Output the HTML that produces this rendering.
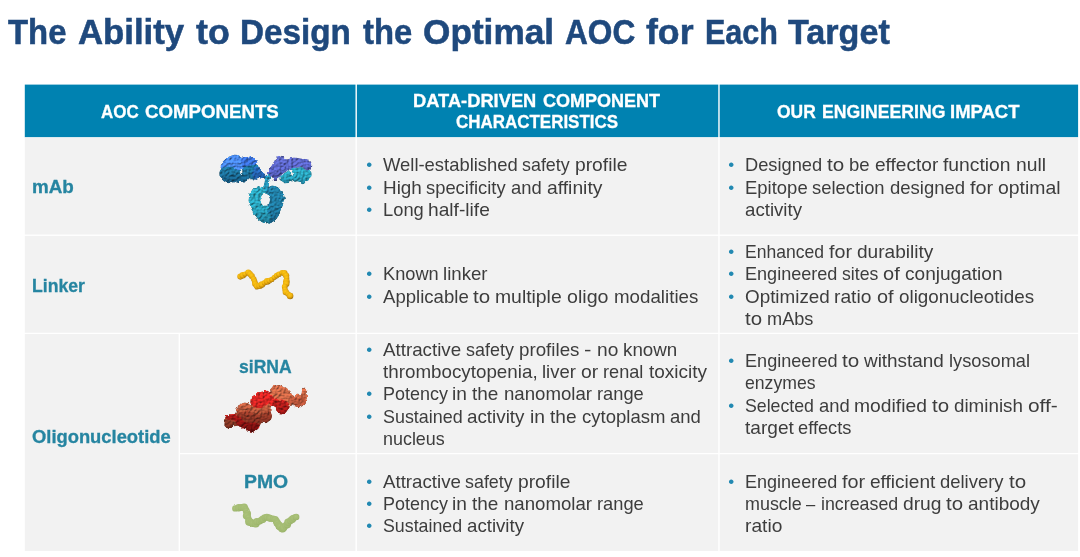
<!DOCTYPE html>
<html lang="en"><head><meta charset="utf-8"><title>The Ability to Design the Optimal AOC for Each Target</title>
<style>
html,body{margin:0;padding:0;background:#fff}
body{width:1080px;height:557px;overflow:hidden;position:relative;font-family:"Liberation Sans",sans-serif}
.slide{position:absolute;left:0;top:0;width:1080px;height:557px;overflow:hidden;background:#fff}
.t,.art{position:absolute}
h1{margin:0;padding:0;font-size:inherit;font-weight:inherit}
.t{white-space:nowrap;font-family:"Liberation Sans",sans-serif;transform-origin:0 0}
.b{font-size:18.2px;line-height:20px;color:#3d3d3d}
.hd{font-size:17.8px;line-height:20px;font-weight:bold;color:#fff;-webkit-text-stroke:0.3px #fff}
.lb{font-size:17.8px;line-height:20px;font-weight:bold;color:#2685a1;-webkit-text-stroke:0.3px #2685a1}
.ti{font-size:35px;line-height:40px;font-weight:bold;color:#1f497d;-webkit-text-stroke:0.55px #1f497d}
.bu{font-size:17.0px;line-height:20px;color:#2289b2}
.art{left:0;top:0;width:1080px;height:557px;pointer-events:none}
</style></head><body>
<div class="slide">
<svg class="art" viewBox="0 0 1080 557" width="1080" height="557">
<rect x="24.8" y="84.6" width="1053.30" height="52.65" fill="#0082b1"/>
<rect x="24.8" y="137.45" width="1053.30" height="413.55" fill="#f2f2f2"/>
<rect x="355.50" y="83.60" width="1.4" height="468.40" fill="#fff"/>
<rect x="718.27" y="83.60" width="1.4" height="468.40" fill="#fff"/>
<rect x="178.60" y="333.40" width="1.4" height="218.60" fill="#fff"/>
<rect x="23.80" y="234.57" width="1055.30" height="1.35" fill="#fff"/>
<rect x="23.80" y="332.72" width="1055.30" height="1.35" fill="#fff"/>
<rect x="179.30" y="452.93" width="899.80" height="1.35" fill="#fff"/>
</svg>
<h1><span class="t ti" style="left:8.30px;top:12px;transform:scaleX(0.9391)">The</span>
<span class="t ti" style="left:78.00px;top:12px;transform:scaleX(0.9927)">Ability</span>
<span class="t ti" style="left:195.80px;top:12px;transform:scaleX(1.0228)">to</span>
<span class="t ti" style="left:239.70px;top:12px;transform:scaleX(0.9496)">Design</span>
<span class="t ti" style="left:362.50px;top:12px;transform:scaleX(0.9378)">the</span>
<span class="t ti" style="left:423.19px;top:12px;transform:scaleX(1.0057)">Optimal</span>
<span class="t ti" style="left:565.00px;top:12px;transform:scaleX(0.9032)">AOC</span>
<span class="t ti" style="left:646.30px;top:12px;transform:scaleX(1.0184)">for</span>
<span class="t ti" style="left:704.96px;top:12px;transform:scaleX(0.8720)">Each</span>
<span class="t ti" style="left:788.10px;top:12px;transform:scaleX(0.9751)">Target</span></h1>
<span class="t hd" style="left:101.10px;top:102px;transform:scaleX(0.9528)">AOC</span>
<span class="t hd" style="left:145.30px;top:102px;transform:scaleX(1.0496)">COMPONENTS</span>
<span class="t hd" style="left:413.37px;top:91px;transform:scaleX(1.0287)">DATA-DRIVEN</span>
<span class="t hd" style="left:542.80px;top:91px;transform:scaleX(1.0128)">COMPONENT</span>
<span class="t hd" style="left:456.10px;top:112px;transform:scaleX(0.9538)">CHARACTERISTICS</span>
<span class="t hd" style="left:776.90px;top:102px;transform:scaleX(0.9805)">OUR</span>
<span class="t hd" style="left:821.81px;top:102px;transform:scaleX(0.9914)">ENGINEERING</span>
<span class="t hd" style="left:950.36px;top:102px;transform:scaleX(1.0398)">IMPACT</span>
<span class="t lb" style="left:31.94px;top:177px;transform:scaleX(1.0582)">mAb</span>
<span class="t lb" style="left:31.81px;top:276px;transform:scaleX(0.9916)">Linker</span>
<span class="t lb" style="left:32.40px;top:427px;transform:scaleX(1.0323)">Oligonucleotide</span>
<span class="t lb" style="left:239.30px;top:357px;transform:scaleX(0.9867)">siRNA</span>
<span class="t lb" style="left:243.81px;top:472px;transform:scaleX(1.0889)">PMO</span>
<span class="t bu" style="left:366.15px;top:155px">•</span>
<span class="t bu" style="left:366.15px;top:178px">•</span>
<span class="t bu" style="left:366.15px;top:200px">•</span>
<span class="t bu" style="left:366.15px;top:264px">•</span>
<span class="t bu" style="left:366.15px;top:287px">•</span>
<span class="t bu" style="left:366.15px;top:340px">•</span>
<span class="t bu" style="left:366.15px;top:384px">•</span>
<span class="t bu" style="left:366.15px;top:407px">•</span>
<span class="t bu" style="left:366.15px;top:472px">•</span>
<span class="t bu" style="left:366.15px;top:494px">•</span>
<span class="t bu" style="left:366.15px;top:516px">•</span>
<span class="t bu" style="left:728.15px;top:155px">•</span>
<span class="t bu" style="left:728.15px;top:178px">•</span>
<span class="t bu" style="left:728.15px;top:242px">•</span>
<span class="t bu" style="left:728.15px;top:264px">•</span>
<span class="t bu" style="left:728.15px;top:287px">•</span>
<span class="t bu" style="left:728.15px;top:351px">•</span>
<span class="t bu" style="left:728.15px;top:396px">•</span>
<span class="t bu" style="left:728.15px;top:472px">•</span>
<div class="ln">
<span class="t b" style="left:382.50px;top:155px;transform:scaleX(1.0128)">Well-established</span>
<span class="t b" style="left:522.36px;top:155px;transform:scaleX(0.9834)">safety</span>
<span class="t b" style="left:575.13px;top:155px;transform:scaleX(1.0583)">profile</span>
</div>
<div class="ln">
<span class="t b" style="left:382.50px;top:178px;transform:scaleX(1.0383)">High</span>
<span class="t b" style="left:426.39px;top:178px;transform:scaleX(1.0101)">specificity</span>
<span class="t b" style="left:511.07px;top:178px;transform:scaleX(1.0103)">and</span>
<span class="t b" style="left:546.78px;top:178px;transform:scaleX(1.0603)">affinity</span>
</div>
<div class="ln">
<span class="t b" style="left:382.50px;top:200px;transform:scaleX(1.0073)">Long</span>
<span class="t b" style="left:428.31px;top:200px;transform:scaleX(1.0539)">half-life</span>
</div>
<div class="ln">
<span class="t b" style="left:382.50px;top:264px;transform:scaleX(1.0007)">Known</span>
<span class="t b" style="left:443.20px;top:264px;transform:scaleX(1.0258)">linker</span>
</div>
<div class="ln">
<span class="t b" style="left:382.50px;top:287px;transform:scaleX(1.0213)">Applicable</span>
<span class="t b" style="left:473.28px;top:287px;transform:scaleX(1.1290)">to</span>
<span class="t b" style="left:495.48px;top:287px;transform:scaleX(1.0640)">multiple</span>
<span class="t b" style="left:567.23px;top:287px;transform:scaleX(1.0814)">oligo</span>
<span class="t b" style="left:613.86px;top:287px;transform:scaleX(1.0300)">modalities</span>
</div>
<div class="ln">
<span class="t b" style="left:382.50px;top:340px;transform:scaleX(1.0314)">Attractive</span>
<span class="t b" style="left:465.75px;top:340px;transform:scaleX(0.9867)">safety</span>
<span class="t b" style="left:518.70px;top:340px;transform:scaleX(1.0309)">profiles</span>
<span class="t b" style="left:584.21px;top:340px;transform:scaleX(1.2222)">-</span>
<span class="t b" style="left:596.68px;top:340px;transform:scaleX(1.0531)">no</span>
<span class="t b" style="left:623.06px;top:340px;transform:scaleX(1.0327)">known</span>
</div>
<div class="ln">
<span class="t b" style="left:382.50px;top:362px;transform:scaleX(1.0333)">thrombocytopenia,</span>
<span class="t b" style="left:542.16px;top:362px;transform:scaleX(1.0144)">liver</span>
<span class="t b" style="left:581.04px;top:362px;transform:scaleX(1.0646)">or</span>
<span class="t b" style="left:603.31px;top:362px;transform:scaleX(0.9973)">renal</span>
<span class="t b" style="left:648.70px;top:362px;transform:scaleX(1.0449)">toxicity</span>
</div>
<div class="ln">
<span class="t b" style="left:382.50px;top:384px;transform:scaleX(0.9873)">Potency</span>
<span class="t b" style="left:452.44px;top:384px;transform:scaleX(1.0526)">in</span>
<span class="t b" style="left:472.40px;top:384px;transform:scaleX(1.0418)">the</span>
<span class="t b" style="left:503.79px;top:384px;transform:scaleX(1.0243)">nanomolar</span>
<span class="t b" style="left:596.88px;top:384px;transform:scaleX(1.0047)">range</span>
</div>
<div class="ln">
<span class="t b" style="left:382.50px;top:407px;transform:scaleX(0.9848)">Sustained</span>
<span class="t b" style="left:467.25px;top:407px;transform:scaleX(1.0337)">activity</span>
<span class="t b" style="left:529.80px;top:407px;transform:scaleX(1.0600)">in</span>
<span class="t b" style="left:549.90px;top:407px;transform:scaleX(1.0491)">the</span>
<span class="t b" style="left:581.52px;top:407px;transform:scaleX(1.0191)">cytoplasm</span>
<span class="t b" style="left:670.05px;top:407px;transform:scaleX(1.0179)">and</span>
</div>
<div class="ln">
<span class="t b" style="left:382.50px;top:429px;transform:scaleX(0.9847)">nucleus</span>
</div>
<div class="ln">
<span class="t b" style="left:382.50px;top:472px;transform:scaleX(1.0280)">Attractive</span>
<span class="t b" style="left:465.48px;top:472px;transform:scaleX(0.9834)">safety</span>
<span class="t b" style="left:518.25px;top:472px;transform:scaleX(1.0583)">profile</span>
</div>
<div class="ln">
<span class="t b" style="left:382.50px;top:494px;transform:scaleX(0.9873)">Potency</span>
<span class="t b" style="left:452.44px;top:494px;transform:scaleX(1.0526)">in</span>
<span class="t b" style="left:472.40px;top:494px;transform:scaleX(1.0418)">the</span>
<span class="t b" style="left:503.79px;top:494px;transform:scaleX(1.0243)">nanomolar</span>
<span class="t b" style="left:596.88px;top:494px;transform:scaleX(1.0047)">range</span>
</div>
<div class="ln">
<span class="t b" style="left:382.50px;top:516px;transform:scaleX(0.9773)">Sustained</span>
<span class="t b" style="left:466.62px;top:516px;transform:scaleX(1.0259)">activity</span>
</div>
<div class="ln">
<span class="t b" style="left:744.50px;top:155px;transform:scaleX(1.0041)">Designed</span>
<span class="t b" style="left:826.74px;top:155px;transform:scaleX(1.1325)">to</span>
<span class="t b" style="left:849.01px;top:155px;transform:scaleX(1.0199)">be</span>
<span class="t b" style="left:874.73px;top:155px;transform:scaleX(1.0486)">effector</span>
<span class="t b" style="left:943.08px;top:155px;transform:scaleX(1.0604)">function</span>
<span class="t b" style="left:1015.72px;top:155px;transform:scaleX(1.0591)">null</span>
</div>
<div class="ln">
<span class="t b" style="left:744.50px;top:178px;transform:scaleX(1.0158)">Epitope</span>
<span class="t b" style="left:812.25px;top:178px;transform:scaleX(1.0112)">selection</span>
<span class="t b" style="left:889.93px;top:178px;transform:scaleX(1.0172)">designed</span>
<span class="t b" style="left:970.11px;top:178px;transform:scaleX(1.0911)">for</span>
<span class="t b" style="left:998.36px;top:178px;transform:scaleX(1.0669)">optimal</span>
</div>
<div class="ln">
<span class="t b" style="left:744.50px;top:200px;transform:scaleX(1.0259)">activity</span>
</div>
<div class="ln">
<span class="t b" style="left:744.50px;top:242px;transform:scaleX(0.9645)">Enhanced</span>
<span class="t b" style="left:828.56px;top:242px;transform:scaleX(1.0832)">for</span>
<span class="t b" style="left:856.61px;top:242px;transform:scaleX(1.0497)">durability</span>
</div>
<div class="ln">
<span class="t b" style="left:744.50px;top:264px;transform:scaleX(0.9928)">Engineered</span>
<span class="t b" style="left:841.96px;top:264px;transform:scaleX(0.9700)">sites</span>
<span class="t b" style="left:883.32px;top:264px;transform:scaleX(1.1015)">of</span>
<span class="t b" style="left:905.12px;top:264px;transform:scaleX(1.0485)">conjugation</span>
</div>
<div class="ln">
<span class="t b" style="left:744.50px;top:287px;transform:scaleX(1.0361)">Optimized</span>
<span class="t b" style="left:834.39px;top:287px;transform:scaleX(1.0573)">ratio</span>
<span class="t b" style="left:876.87px;top:287px;transform:scaleX(1.0959)">of</span>
<span class="t b" style="left:898.56px;top:287px;transform:scaleX(1.0353)">oligonucleotides</span>
</div>
<div class="ln">
<span class="t b" style="left:744.50px;top:309px;transform:scaleX(1.1249)">to</span>
<span class="t b" style="left:766.62px;top:309px;transform:scaleX(0.9987)">mAbs</span>
</div>
<div class="ln">
<span class="t b" style="left:744.50px;top:351px;transform:scaleX(0.9946)">Engineered</span>
<span class="t b" style="left:842.13px;top:351px;transform:scaleX(1.1351)">to</span>
<span class="t b" style="left:864.44px;top:351px;transform:scaleX(1.0396)">withstand</span>
<span class="t b" style="left:949.43px;top:351px;transform:scaleX(1.0020)">lysosomal</span>
</div>
<div class="ln">
<span class="t b" style="left:744.50px;top:373px;transform:scaleX(0.9697)">enzymes</span>
</div>
<div class="ln">
<span class="t b" style="left:744.50px;top:396px;transform:scaleX(0.9743)">Selected</span>
<span class="t b" style="left:818.52px;top:396px;transform:scaleX(1.0122)">and</span>
<span class="t b" style="left:854.30px;top:396px;transform:scaleX(1.0600)">modified</span>
<span class="t b" style="left:932.23px;top:396px;transform:scaleX(1.1271)">to</span>
<span class="t b" style="left:954.39px;top:396px;transform:scaleX(1.0330)">diminish</span>
<span class="t b" style="left:1028.37px;top:396px;transform:scaleX(1.1482)">off-</span>
</div>
<div class="ln">
<span class="t b" style="left:744.50px;top:418px;transform:scaleX(1.0491)">target</span>
<span class="t b" style="left:798.35px;top:418px;transform:scaleX(1.0036)">effects</span>
</div>
<div class="ln">
<span class="t b" style="left:744.50px;top:472px;transform:scaleX(0.9913)">Engineered</span>
<span class="t b" style="left:841.81px;top:472px;transform:scaleX(1.0895)">for</span>
<span class="t b" style="left:870.02px;top:472px;transform:scaleX(1.0482)">efficient</span>
<span class="t b" style="left:940.46px;top:472px;transform:scaleX(1.0137)">delivery</span>
<span class="t b" style="left:1009.07px;top:472px;transform:scaleX(1.1314)">to</span>
</div>
<div class="ln">
<span class="t b" style="left:744.50px;top:494px;transform:scaleX(0.9850)">muscle</span>
<span class="t b" style="left:806.30px;top:494px;transform:scaleX(0.9120)">–</span>
<span class="t b" style="left:820.58px;top:494px;transform:scaleX(0.9786)">increased</span>
<span class="t b" style="left:902.80px;top:494px;transform:scaleX(1.0582)">drug</span>
<span class="t b" style="left:946.38px;top:494px;transform:scaleX(1.1249)">to</span>
<span class="t b" style="left:968.49px;top:494px;transform:scaleX(1.0452)">antibody</span>
</div>
<div class="ln">
<span class="t b" style="left:744.50px;top:516px;transform:scaleX(1.0549)">ratio</span>
</div>
<svg class="art" viewBox="0 0 1080 557" width="1080" height="557">
<defs>
<filter id="rough" x="-10%" y="-10%" width="120%" height="120%" color-interpolation-filters="sRGB">
<feTurbulence type="fractalNoise" baseFrequency="0.4" numOctaves="2" seed="4" result="n"/>
<feDisplacementMap in="SourceGraphic" in2="n" scale="3.0" xChannelSelector="R" yChannelSelector="G" result="d"/>
<feTurbulence type="fractalNoise" baseFrequency="0.42" numOctaves="2" seed="11" result="n2"/>
<feColorMatrix in="n2" type="matrix" values="0 0 0 0 0  0 0 0 0 0  0 0 0 0 0  1 0 0 0 0" result="bump"/>
<feDiffuseLighting in="bump" surfaceScale="1.15" diffuseConstant="1.18" lighting-color="#fff" result="light"><feDistantLight azimuth="235" elevation="48"/></feDiffuseLighting>
<feComposite in="d" in2="light" operator="arithmetic" k1="1.18" k2="0" k3="0" k4="0" result="lit"/>
<feComposite in="lit" in2="d" operator="in"/>
</filter>
<filter id="rough2" x="-10%" y="-10%" width="120%" height="120%" color-interpolation-filters="sRGB">
<feTurbulence type="fractalNoise" baseFrequency="0.5" numOctaves="2" seed="7" result="n"/>
<feDisplacementMap in="SourceGraphic" in2="n" scale="2.0" xChannelSelector="R" yChannelSelector="G" result="d"/>
</filter>
<linearGradient id="shR" x1="0" y1="0" x2="0" y2="1"><stop offset="0" stop-color="#400" stop-opacity="0"/><stop offset="0.4" stop-color="#400" stop-opacity="0.08"/><stop offset="1" stop-color="#2a0000" stop-opacity="0.7"/></linearGradient>
<linearGradient id="shB" x1="0" y1="0" x2="0" y2="1"><stop offset="0" stop-color="#013" stop-opacity="0"/><stop offset="0.6" stop-color="#013" stop-opacity="0.05"/><stop offset="1" stop-color="#013" stop-opacity="0.35"/></linearGradient>
<radialGradient id="gY" cx="0.42" cy="0.36" r="0.66"><stop offset="0" stop-color="#fcc818"/><stop offset="0.5" stop-color="#f1b410"/><stop offset="0.85" stop-color="#c98f0b"/><stop offset="1" stop-color="#9a6c08"/></radialGradient>
<radialGradient id="gG" cx="0.45" cy="0.4" r="0.7"><stop offset="0" stop-color="#adc47c"/><stop offset="0.7" stop-color="#a2ba71"/><stop offset="1" stop-color="#90ab60"/></radialGradient>
<linearGradient id="shP" x1="0" y1="0" x2="0.3" y2="1"><stop offset="0" stop-color="#8f9cf0" stop-opacity="0.25"/><stop offset="0.5" stop-color="#224" stop-opacity="0"/><stop offset="1" stop-color="#113" stop-opacity="0.4"/></linearGradient>
</defs>
<g filter="url(#rough)"><g transform="translate(0,190) scale(1,0.962) translate(0,-190)">
<path d="M219.3,173.0 C219.3,169.5 220.5,170.3 221.3,167.0 C222.1,163.6 220.3,165.9 221.7,162.9 C223.0,160.0 222.5,160.8 225.3,158.1 C228.1,155.4 226.1,156.3 230.2,154.8 C234.2,153.4 233.7,153.1 237.4,153.6 C241.2,154.2 238.5,155.8 241.5,156.5 C244.4,157.1 242.8,155.8 246.3,155.7 C249.8,155.5 248.7,155.0 252.0,156.1 C255.2,157.1 254.5,156.6 256.0,158.9 C257.5,161.2 255.3,160.5 256.4,162.9 C257.5,165.3 257.2,163.5 259.2,166.2 C261.3,168.8 260.3,168.0 262.5,171.0 C264.6,174.0 264.6,172.8 265.7,175.0 C266.8,177.3 266.8,177.1 265.7,177.9 C264.6,178.7 264.6,177.9 262.5,177.5 C260.3,177.1 260.8,176.3 259.2,176.7 C257.6,177.1 259.8,177.9 257.6,178.7 C255.5,179.5 255.7,179.2 252.8,179.1 C249.8,178.9 251.4,177.2 248.7,178.3 C246.0,179.3 246.8,181.0 244.7,182.3 C242.5,183.7 243.6,182.8 242.3,182.3 C240.9,181.8 242.0,180.7 240.7,180.7 C239.3,180.7 240.7,181.8 238.2,182.3 C235.8,182.8 236.6,182.0 233.4,182.3 C230.2,182.6 231.5,183.4 228.5,183.1 C225.6,182.8 226.9,183.4 224.5,181.5 C222.1,179.6 223.0,180.3 221.3,177.5 C219.5,174.6 219.3,176.5 219.3,173.0Z M240.5,168.2 C241.0,167.4 241.3,167.4 241.9,168.6 C242.4,169.8 242.4,170.3 242.1,171.8 C241.8,173.3 241.7,173.3 241.1,173.0 C240.4,172.8 240.4,172.6 240.3,171.0 C240.1,169.4 240.0,169.0 240.5,168.2Z" fill="#1e769f" fill-rule="evenodd"/>
<path d="M252.8,169.4 C254.1,165.6 254.4,165.6 257.6,166.2 C260.8,166.7 259.8,168.0 262.5,171.0 C265.2,174.0 265.7,172.9 265.7,175.0 C265.7,177.2 264.6,176.9 262.5,177.5 C260.3,178.0 260.8,176.3 259.2,176.7 C257.6,177.1 259.5,178.4 257.6,178.7 C255.7,178.9 255.2,180.6 253.6,177.5 C252.0,174.4 251.4,173.2 252.8,169.4Z" fill="#2668b8"/>
<path d="M221.1,167.4 C219.9,166.3 220.3,166.0 221.7,162.9 C223.1,159.8 222.5,160.8 225.3,158.1 C228.1,155.4 226.1,156.3 230.2,154.8 C234.2,153.4 233.7,153.1 237.4,153.6 C241.2,154.2 238.5,155.8 241.5,156.5 C244.4,157.1 242.8,155.8 246.3,155.7 C249.8,155.5 248.7,155.0 252.0,156.1 C255.2,157.1 254.5,156.6 256.0,158.9 C257.5,161.2 257.8,161.3 256.4,162.9 C255.1,164.6 254.8,163.3 252.0,163.9 C249.1,164.5 250.6,163.9 247.9,164.7 C245.2,165.5 246.2,164.9 243.9,166.2 C241.6,167.4 243.2,167.3 241.1,168.4 C238.9,169.5 239.4,169.7 237.4,169.4 C235.4,169.0 237.4,168.6 235.0,167.4 C232.6,166.2 233.4,166.2 230.2,165.8 C226.9,165.3 228.3,165.5 225.3,166.0 C222.3,166.5 222.3,168.4 221.1,167.4Z" fill="#4a88ea"/>
<path d="M241.5,156.9 C243.2,155.5 242.8,155.9 246.3,155.7 C249.8,155.4 248.7,155.0 252.0,156.1 C255.2,157.1 254.5,156.6 256.0,158.9 C257.5,161.2 257.8,161.3 256.4,162.9 C255.1,164.6 254.8,163.3 252.0,163.9 C249.1,164.5 250.6,163.9 247.9,164.7 C245.2,165.5 245.9,166.5 243.9,166.2 C241.9,165.8 242.8,165.9 241.9,163.7 C240.9,161.6 241.2,162.0 241.1,159.7 C240.9,157.4 239.7,158.2 241.5,156.9Z" fill="#3b6fd6"/>
<path d="M219.3,173.0 C219.3,169.5 220.5,170.3 221.3,167.0 C222.1,163.6 220.3,165.9 221.7,162.9 C223.0,160.0 222.5,160.8 225.3,158.1 C228.1,155.4 226.1,156.3 230.2,154.8 C234.2,153.4 233.7,153.1 237.4,153.6 C241.2,154.2 238.5,155.8 241.5,156.5 C244.4,157.1 242.8,155.8 246.3,155.7 C249.8,155.5 248.7,155.0 252.0,156.1 C255.2,157.1 254.5,156.6 256.0,158.9 C257.5,161.2 255.3,160.5 256.4,162.9 C257.5,165.3 257.2,163.5 259.2,166.2 C261.3,168.8 260.3,168.0 262.5,171.0 C264.6,174.0 264.6,172.8 265.7,175.0 C266.8,177.3 266.8,177.1 265.7,177.9 C264.6,178.7 264.6,177.9 262.5,177.5 C260.3,177.1 260.8,176.3 259.2,176.7 C257.6,177.1 259.8,177.9 257.6,178.7 C255.5,179.5 255.7,179.2 252.8,179.1 C249.8,178.9 251.4,177.2 248.7,178.3 C246.0,179.3 246.8,181.0 244.7,182.3 C242.5,183.7 243.6,182.8 242.3,182.3 C240.9,181.8 242.0,180.7 240.7,180.7 C239.3,180.7 240.7,181.8 238.2,182.3 C235.8,182.8 236.6,182.0 233.4,182.3 C230.2,182.6 231.5,183.4 228.5,183.1 C225.6,182.8 226.9,183.4 224.5,181.5 C222.1,179.6 223.0,180.3 221.3,177.5 C219.5,174.6 219.3,176.5 219.3,173.0Z M240.5,168.2 C241.0,167.4 241.3,167.4 241.9,168.6 C242.4,169.8 242.4,170.3 242.1,171.8 C241.8,173.3 241.7,173.3 241.1,173.0 C240.4,172.8 240.4,172.6 240.3,171.0 C240.1,169.4 240.0,169.0 240.5,168.2Z" fill="url(#shB)" fill-rule="evenodd"/>
<path d="M279.4,177.5 C279.7,174.8 280.7,175.8 283.4,173.4 C286.1,171.0 284.5,172.2 287.5,170.2 C290.4,168.2 288.8,168.6 292.3,167.4 C295.8,166.2 294.7,167.0 298.0,166.6 C301.2,166.2 299.6,165.5 302.0,166.2 C304.4,166.8 302.8,167.5 305.2,168.6 C307.7,169.7 307.1,167.6 309.3,169.4 C311.4,171.1 311.7,170.9 311.7,173.8 C311.7,176.8 311.2,175.8 309.3,178.3 C307.4,180.7 308.2,179.2 306.0,181.1 C303.9,183.0 305.2,183.8 302.8,183.9 C300.4,184.1 301.7,182.3 298.8,181.5 C295.8,180.7 296.6,181.8 293.9,181.5 C291.2,181.2 293.1,180.2 290.7,180.7 C288.3,181.2 289.3,182.8 286.7,183.1 C284.0,183.4 285.0,183.4 282.6,181.5 C280.2,179.6 279.1,180.2 279.4,177.5Z M289.5,169.0 C289.8,168.2 290.2,168.4 291.1,169.4 C292.0,170.3 291.7,170.1 292.3,171.8 C292.9,173.6 293.2,173.8 293.0,174.6 C292.7,175.4 292.6,175.2 291.7,174.2 C290.8,173.3 291.0,173.6 290.3,171.8 C289.6,170.1 289.2,169.8 289.5,169.0Z" fill="#2ba6be" fill-rule="evenodd"/>
<path d="M279.4,177.5 C279.7,174.8 280.7,175.8 283.4,173.4 C286.1,171.0 284.5,172.2 287.5,170.2 C290.4,168.2 288.8,168.6 292.3,167.4 C295.8,166.2 294.7,167.0 298.0,166.6 C301.2,166.2 299.6,165.5 302.0,166.2 C304.4,166.8 302.8,167.5 305.2,168.6 C307.7,169.7 307.1,167.6 309.3,169.4 C311.4,171.1 311.7,170.9 311.7,173.8 C311.7,176.8 311.2,175.8 309.3,178.3 C307.4,180.7 308.2,179.2 306.0,181.1 C303.9,183.0 305.2,183.8 302.8,183.9 C300.4,184.1 301.7,182.3 298.8,181.5 C295.8,180.7 296.6,181.8 293.9,181.5 C291.2,181.2 293.1,180.2 290.7,180.7 C288.3,181.2 289.3,182.8 286.7,183.1 C284.0,183.4 285.0,183.4 282.6,181.5 C280.2,179.6 279.1,180.2 279.4,177.5Z M289.5,169.0 C289.8,168.2 290.2,168.4 291.1,169.4 C292.0,170.3 291.7,170.1 292.3,171.8 C292.9,173.6 293.2,173.8 293.0,174.6 C292.7,175.4 292.6,175.2 291.7,174.2 C290.8,173.3 291.0,173.6 290.3,171.8 C289.6,170.1 289.2,169.8 289.5,169.0Z" fill="url(#shB)" fill-rule="evenodd"/>
<path d="M268.1,172.6 C268.1,170.5 267.5,171.5 268.9,168.6 C270.2,165.6 270.0,167.2 272.1,163.7 C274.3,160.2 273.1,161.2 275.3,158.1 C277.6,155.0 276.3,155.3 279.0,154.4 C281.7,153.6 280.9,154.4 283.4,155.7 C286.0,156.9 283.7,157.8 286.7,158.1 C289.6,158.3 288.3,156.9 292.3,156.5 C296.3,156.1 294.5,156.5 298.8,156.9 C303.1,157.3 301.5,156.7 305.2,157.7 C309.0,158.6 308.1,157.4 310.1,159.7 C312.1,162.0 311.6,161.4 311.3,164.5 C311.0,167.6 311.3,167.6 309.3,169.0 C307.3,170.3 307.7,169.5 305.2,168.6 C302.8,167.6 304.4,166.8 302.0,166.2 C299.6,165.5 300.9,166.2 298.0,166.6 C295.0,167.0 295.9,166.6 293.1,167.4 C290.3,168.1 291.9,167.5 289.5,168.7 C287.1,170.0 288.4,169.2 285.8,171.0 C283.3,172.8 284.2,172.1 281.8,174.2 C279.4,176.4 280.7,175.3 278.6,177.5 C276.4,179.6 277.5,181.0 275.3,180.7 C273.2,180.4 274.3,178.5 272.1,176.7 C270.0,174.8 270.2,176.4 268.9,175.0 C267.5,173.7 268.1,174.8 268.1,172.6Z" fill="#5c66c9"/>
<path d="M268.1,172.6 C268.1,170.5 267.5,171.5 268.9,168.6 C270.2,165.6 270.0,167.2 272.1,163.7 C274.3,160.2 273.1,161.2 275.3,158.1 C277.6,155.0 276.3,155.3 279.0,154.4 C281.7,153.6 280.9,154.4 283.4,155.7 C286.0,156.9 283.7,157.8 286.7,158.1 C289.6,158.3 288.3,156.9 292.3,156.5 C296.3,156.1 294.5,156.5 298.8,156.9 C303.1,157.3 301.5,156.7 305.2,157.7 C309.0,158.6 308.1,157.4 310.1,159.7 C312.1,162.0 311.6,161.4 311.3,164.5 C311.0,167.6 311.3,167.6 309.3,169.0 C307.3,170.3 307.7,169.5 305.2,168.6 C302.8,167.6 304.4,166.8 302.0,166.2 C299.6,165.5 300.9,166.2 298.0,166.6 C295.0,167.0 295.9,166.6 293.1,167.4 C290.3,168.1 291.9,167.5 289.5,168.7 C287.1,170.0 288.4,169.2 285.8,171.0 C283.3,172.8 284.2,172.1 281.8,174.2 C279.4,176.4 280.7,175.3 278.6,177.5 C276.4,179.6 277.5,181.0 275.3,180.7 C273.2,180.4 274.3,178.5 272.1,176.7 C270.0,174.8 270.2,176.4 268.9,175.0 C267.5,173.7 268.1,174.8 268.1,172.6Z" fill="url(#shP)"/>
<path d="M248.8,197.7 C249.3,193.2 248.6,194.8 251.1,191.3 C253.6,187.8 252.8,188.7 256.3,187.2 C259.8,185.6 258.7,186.0 261.6,186.6 C264.5,187.2 262.6,188.9 265.1,188.9 C267.6,188.9 265.9,187.6 269.2,186.6 C272.5,185.6 271.3,185.0 275.0,186.0 C278.7,187.0 277.2,186.4 280.3,189.5 C283.3,192.6 283.1,190.7 284.1,195.3 C285.2,200.0 284.7,198.1 283.4,203.5 C282.1,209.0 282.3,206.6 280.3,211.7 C278.2,216.7 280.1,214.8 277.4,218.7 C274.6,222.6 275.6,221.3 272.1,223.4 C268.6,225.4 270.5,225.0 266.8,224.8 C263.2,224.6 264.5,225.0 261.0,222.8 C257.5,220.6 259.3,221.8 256.3,218.1 C253.4,214.4 254.6,216.2 252.3,211.7 C249.9,207.2 250.5,209.4 249.3,204.7 C248.2,200.0 248.2,202.2 248.8,197.7Z M261.0,198.6 C261.9,195.2 262.0,195.0 264.5,194.2 C267.0,193.3 266.8,193.4 268.5,196.0 C270.2,198.7 270.3,198.9 269.6,202.1 C269.0,205.4 269.2,205.1 266.6,205.9 C264.0,206.6 263.8,206.9 261.9,204.5 C260.1,202.0 260.2,202.0 261.0,198.6Z" fill="#2ba6be" fill-rule="evenodd"/>
<path d="M266.6,190.1 C267.7,188.0 266.4,188.0 269.2,186.6 C272.0,185.2 271.3,185.0 275.0,186.0 C278.7,187.0 277.2,186.4 280.3,189.5 C283.3,192.6 283.1,190.7 284.1,195.3 C285.2,200.0 284.7,198.1 283.4,203.5 C282.1,209.0 282.3,206.6 280.3,211.7 C278.2,216.7 280.1,214.8 277.4,218.7 C274.6,222.6 274.8,221.8 272.1,223.4 C269.4,224.9 269.7,225.1 269.2,223.4 C268.7,221.6 271.0,221.6 270.6,218.1 C270.2,214.6 268.5,216.2 268.0,212.9 C267.5,209.6 269.6,210.5 269.2,208.2 C268.7,205.9 266.5,207.9 266.6,205.9 C266.8,203.8 269.0,205.4 269.6,202.1 C270.3,198.9 269.7,199.1 268.5,196.0 C267.2,193.0 266.5,195.0 265.9,193.0 C265.3,191.0 265.5,192.2 266.6,190.1Z" fill="#1e769f" opacity="0.85"/>
<path d="M248.8,197.7 C249.3,193.2 248.6,194.8 251.1,191.3 C253.6,187.8 252.8,188.7 256.3,187.2 C259.8,185.6 258.7,186.0 261.6,186.6 C264.5,187.2 262.6,188.9 265.1,188.9 C267.6,188.9 265.9,187.6 269.2,186.6 C272.5,185.6 271.3,185.0 275.0,186.0 C278.7,187.0 277.2,186.4 280.3,189.5 C283.3,192.6 283.1,190.7 284.1,195.3 C285.2,200.0 284.7,198.1 283.4,203.5 C282.1,209.0 282.3,206.6 280.3,211.7 C278.2,216.7 280.1,214.8 277.4,218.7 C274.6,222.6 275.6,221.3 272.1,223.4 C268.6,225.4 270.5,225.0 266.8,224.8 C263.2,224.6 264.5,225.0 261.0,222.8 C257.5,220.6 259.3,221.8 256.3,218.1 C253.4,214.4 254.6,216.2 252.3,211.7 C249.9,207.2 250.5,209.4 249.3,204.7 C248.2,200.0 248.2,202.2 248.8,197.7Z M261.0,198.6 C261.9,195.2 262.0,195.0 264.5,194.2 C267.0,193.3 266.8,193.4 268.5,196.0 C270.2,198.7 270.3,198.9 269.6,202.1 C269.0,205.4 269.2,205.1 266.6,205.9 C264.0,206.6 263.8,206.9 261.9,204.5 C260.1,202.0 260.2,202.0 261.0,198.6Z" fill="url(#shB)" fill-rule="evenodd"/>
<path d="M266.3,175.3 C268.1,173.0 268.9,172.5 269.9,174.6 C270.9,176.6 269.9,176.8 269.2,181.3 C268.5,185.9 269.6,185.8 267.8,188.3 C266.0,190.9 264.9,191.3 263.8,188.9 C262.7,186.6 263.7,185.9 264.5,181.3 C265.3,176.8 264.5,177.5 266.3,175.3Z" fill="#2390b2"/>
</g></g>
<g>
<circle cx="240.3" cy="276.6" r="3.04" fill="url(#gY)"/>
<circle cx="242.8" cy="275.3" r="3.26" fill="url(#gY)"/>
<circle cx="245.1" cy="274.0" r="2.62" fill="url(#gY)"/>
<circle cx="248.3" cy="272.5" r="3.05" fill="url(#gY)"/>
<circle cx="250.0" cy="274.0" r="2.93" fill="url(#gY)"/>
<circle cx="251.8" cy="275.9" r="3.00" fill="url(#gY)"/>
<circle cx="253.7" cy="279.0" r="2.80" fill="url(#gY)"/>
<circle cx="254.6" cy="281.2" r="2.71" fill="url(#gY)"/>
<circle cx="255.1" cy="283.8" r="3.03" fill="url(#gY)"/>
<circle cx="256.9" cy="286.2" r="3.21" fill="url(#gY)"/>
<circle cx="259.7" cy="285.8" r="3.29" fill="url(#gY)"/>
<circle cx="261.9" cy="284.5" r="3.27" fill="url(#gY)"/>
<circle cx="264.5" cy="282.8" r="2.74" fill="url(#gY)"/>
<circle cx="267.2" cy="281.4" r="3.28" fill="url(#gY)"/>
<circle cx="269.4" cy="280.6" r="2.85" fill="url(#gY)"/>
<circle cx="271.8" cy="279.4" r="2.65" fill="url(#gY)"/>
<circle cx="274.3" cy="277.3" r="2.60" fill="url(#gY)"/>
<circle cx="276.7" cy="275.6" r="2.82" fill="url(#gY)"/>
<circle cx="278.9" cy="274.2" r="2.82" fill="url(#gY)"/>
<circle cx="282.0" cy="272.7" r="2.64" fill="url(#gY)"/>
<circle cx="284.4" cy="273.2" r="3.12" fill="url(#gY)"/>
<circle cx="286.1" cy="275.6" r="3.15" fill="url(#gY)"/>
<circle cx="286.7" cy="278.0" r="2.61" fill="url(#gY)"/>
<circle cx="286.4" cy="281.3" r="3.27" fill="url(#gY)"/>
<circle cx="286.2" cy="283.8" r="3.25" fill="url(#gY)"/>
<circle cx="284.7" cy="286.7" r="2.85" fill="url(#gY)"/>
<circle cx="285.0" cy="289.4" r="2.68" fill="url(#gY)"/>
<circle cx="285.8" cy="292.1" r="3.20" fill="url(#gY)"/>
<circle cx="288.0" cy="293.9" r="2.66" fill="url(#gY)"/>
<circle cx="290.1" cy="296.1" r="3.24" fill="url(#gY)"/>
<circle cx="290.2" cy="295.8" r="2.98" fill="url(#gY)"/>
</g>
<g filter="url(#rough)">
<path d="M225.0,418.1 C226.3,415.5 224.8,416.2 228.4,414.7 C231.9,413.3 232.8,415.9 235.6,413.6 C238.4,411.4 234.7,411.4 236.7,408.1 C238.8,404.7 238.2,405.3 241.7,403.6 C245.3,401.9 244.3,402.7 247.3,403.1 C250.3,403.4 249.5,405.8 250.6,404.7 C251.7,403.6 249.5,402.9 250.6,399.7 C251.7,396.6 249.9,398.0 254.0,395.3 C258.1,392.5 257.7,392.5 262.9,391.4 C268.1,390.2 267.0,392.8 269.6,391.9 C272.2,391.0 268.5,390.8 270.7,388.6 C272.9,386.4 271.8,385.8 276.2,385.2 C280.7,384.7 279.2,384.9 284.0,386.9 C288.9,389.0 287.8,388.4 290.7,391.4 C293.7,394.3 290.7,395.1 293.0,395.8 C295.2,396.6 294.8,394.0 297.4,393.6 C300.0,393.2 299.1,396.6 300.7,394.7 C302.4,392.8 300.9,390.1 302.4,388.0 C303.9,386.0 303.7,386.4 305.2,388.6 C306.7,390.8 306.7,390.2 306.9,394.7 C307.1,399.2 307.1,398.2 305.8,401.9 C304.5,405.7 305.8,404.2 303.0,405.8 C300.2,407.5 301.1,407.3 297.4,407.0 C293.7,406.6 295.2,403.6 291.8,404.7 C288.5,405.8 290.7,407.1 287.4,410.3 C284.0,413.4 285.2,413.8 281.8,414.2 C278.5,414.6 279.6,413.8 277.4,411.4 C275.1,409.0 277.0,408.8 275.1,407.0 C273.3,405.1 273.3,404.4 271.8,405.8 C270.3,407.3 270.7,407.7 270.7,411.4 C270.7,415.1 272.5,413.6 271.8,417.0 C271.1,420.3 271.4,419.6 268.5,421.4 C265.5,423.3 265.9,421.1 262.9,422.5 C259.9,424.0 261.8,423.3 259.5,425.9 C257.3,428.5 258.8,428.1 256.2,430.3 C253.6,432.6 254.7,432.6 251.7,432.6 C248.8,432.6 250.6,432.0 247.3,430.3 C244.0,428.7 245.4,429.0 241.7,427.6 C238.0,426.1 239.9,425.7 236.2,425.9 C232.4,426.1 234.1,427.7 230.6,428.1 C227.1,428.5 227.6,428.9 225.6,427.0 C223.5,425.1 224.7,425.5 224.5,422.5 C224.3,419.6 223.7,420.7 225.0,418.1Z" fill="#cd6947"/>
<path d="M226.1,416.4 C227.2,414.6 228.0,414.6 231.7,414.2 C235.4,413.8 233.6,413.3 237.3,415.3 C241.0,417.3 239.1,417.9 242.8,420.3 C246.6,422.7 244.3,421.8 248.4,422.5 C252.5,423.3 251.4,421.4 255.1,422.5 C258.8,423.7 259.2,423.3 259.5,425.9 C259.9,428.5 258.8,428.1 256.2,430.3 C253.6,432.6 254.7,432.6 251.7,432.6 C248.8,432.6 250.6,432.0 247.3,430.3 C244.0,428.7 245.1,429.4 241.7,427.6 C238.4,425.7 239.9,427.2 237.3,424.8 C234.7,422.4 236.9,422.0 233.9,420.3 C231.0,418.6 231.0,421.1 228.4,419.8 C225.8,418.5 225.0,418.3 226.1,416.4Z" fill="#dc2725"/>
<path d="M250.6,400.3 C251.0,396.7 249.9,398.2 254.0,395.3 C258.1,392.3 257.7,392.5 262.9,391.4 C268.1,390.2 266.6,390.4 269.6,391.9 C272.5,393.4 269.2,393.4 271.8,395.8 C274.4,398.2 273.3,397.7 277.4,399.2 C281.4,400.6 280.3,398.4 284.0,400.3 C287.8,402.1 287.4,401.4 288.5,404.7 C289.6,408.1 289.6,407.1 287.4,410.3 C285.2,413.4 285.2,413.8 281.8,414.2 C278.5,414.6 279.6,413.8 277.4,411.4 C275.1,409.0 277.0,408.8 275.1,407.0 C273.3,405.1 273.6,407.0 271.8,405.8 C269.9,404.7 271.8,403.6 269.6,403.6 C267.3,403.6 268.5,404.4 265.1,405.8 C261.8,407.3 263.6,408.1 259.5,408.1 C255.5,408.1 255.8,408.4 252.9,405.8 C249.9,403.2 250.3,403.8 250.6,400.3Z" fill="#dc2725"/>
<path d="M272.9,400.3 C275.1,398.4 276.6,399.9 281.8,401.4 C287.0,402.9 286.6,401.8 288.5,404.7 C290.4,407.7 289.6,407.1 287.4,410.3 C285.2,413.4 285.2,413.8 281.8,414.2 C278.5,414.6 279.6,413.8 277.4,411.4 C275.1,409.0 276.6,410.7 275.1,407.0 C273.6,403.2 270.7,402.1 272.9,400.3Z" fill="#b81e1c"/>
<path d="M237.3,414.7 C237.6,411.8 239.1,412.1 244.0,411.4 C248.8,410.7 246.6,411.4 251.7,412.5 C256.9,413.6 254.3,415.1 259.5,414.7 C264.7,414.4 263.4,412.1 267.3,411.4 C271.2,410.7 269.8,410.7 271.2,412.5 C272.7,414.4 272.7,414.0 271.8,417.0 C270.9,419.9 271.4,419.6 268.5,421.4 C265.5,423.3 267.3,422.2 262.9,422.5 C258.4,422.9 259.9,422.5 255.1,422.5 C250.3,422.5 252.5,423.3 248.4,422.5 C244.3,421.8 246.6,422.9 242.8,420.3 C239.1,417.7 236.9,417.7 237.3,414.7Z" fill="#a23a2a" opacity="0.5"/>
<path d="M291.8,396.9 C294.4,395.4 293.7,396.6 297.4,396.9 C301.1,397.3 300.2,396.4 303.0,398.0 C305.8,399.7 305.8,399.3 305.8,401.9 C305.8,404.5 305.8,404.2 303.0,405.8 C300.2,407.5 301.1,407.3 297.4,407.0 C293.7,406.6 294.4,406.6 291.8,404.7 C289.2,402.9 289.6,404.0 289.6,401.4 C289.6,398.8 289.2,398.4 291.8,396.9Z" fill="#a8482f" opacity="0.45"/>
<path d="M225.0,418.1 C226.3,415.5 224.8,416.2 228.4,414.7 C231.9,413.3 232.8,415.9 235.6,413.6 C238.4,411.4 234.7,411.4 236.7,408.1 C238.8,404.7 238.2,405.3 241.7,403.6 C245.3,401.9 244.3,402.7 247.3,403.1 C250.3,403.4 249.5,405.8 250.6,404.7 C251.7,403.6 249.5,402.9 250.6,399.7 C251.7,396.6 249.9,398.0 254.0,395.3 C258.1,392.5 257.7,392.5 262.9,391.4 C268.1,390.2 267.0,392.8 269.6,391.9 C272.2,391.0 268.5,390.8 270.7,388.6 C272.9,386.4 271.8,385.8 276.2,385.2 C280.7,384.7 279.2,384.9 284.0,386.9 C288.9,389.0 287.8,388.4 290.7,391.4 C293.7,394.3 290.7,395.1 293.0,395.8 C295.2,396.6 294.8,394.0 297.4,393.6 C300.0,393.2 299.1,396.6 300.7,394.7 C302.4,392.8 300.9,390.1 302.4,388.0 C303.9,386.0 303.7,386.4 305.2,388.6 C306.7,390.8 306.7,390.2 306.9,394.7 C307.1,399.2 307.1,398.2 305.8,401.9 C304.5,405.7 305.8,404.2 303.0,405.8 C300.2,407.5 301.1,407.3 297.4,407.0 C293.7,406.6 295.2,403.6 291.8,404.7 C288.5,405.8 290.7,407.1 287.4,410.3 C284.0,413.4 285.2,413.8 281.8,414.2 C278.5,414.6 279.6,413.8 277.4,411.4 C275.1,409.0 277.0,408.8 275.1,407.0 C273.3,405.1 273.3,404.4 271.8,405.8 C270.3,407.3 270.7,407.7 270.7,411.4 C270.7,415.1 272.5,413.6 271.8,417.0 C271.1,420.3 271.4,419.6 268.5,421.4 C265.5,423.3 265.9,421.1 262.9,422.5 C259.9,424.0 261.8,423.3 259.5,425.9 C257.3,428.5 258.8,428.1 256.2,430.3 C253.6,432.6 254.7,432.6 251.7,432.6 C248.8,432.6 250.6,432.0 247.3,430.3 C244.0,428.7 245.4,429.0 241.7,427.6 C238.0,426.1 239.9,425.7 236.2,425.9 C232.4,426.1 234.1,427.7 230.6,428.1 C227.1,428.5 227.6,428.9 225.6,427.0 C223.5,425.1 224.7,425.5 224.5,422.5 C224.3,419.6 223.7,420.7 225.0,418.1Z" fill="url(#shR)"/>
</g>
<g filter="url(#rough2)">
<circle cx="235.3" cy="508.4" r="3.18" fill="url(#gG)"/>
<circle cx="238.7" cy="507.7" r="3.69" fill="url(#gG)"/>
<circle cx="240.7" cy="507.4" r="3.05" fill="url(#gG)"/>
<circle cx="241.9" cy="507.4" r="3.41" fill="url(#gG)"/>
<circle cx="244.1" cy="507.4" r="3.83" fill="url(#gG)"/>
<circle cx="245.6" cy="508.9" r="3.06" fill="url(#gG)"/>
<circle cx="246.3" cy="511.1" r="3.49" fill="url(#gG)"/>
<circle cx="247.3" cy="513.8" r="3.73" fill="url(#gG)"/>
<circle cx="246.6" cy="515.7" r="3.79" fill="url(#gG)"/>
<circle cx="248.1" cy="517.6" r="3.15" fill="url(#gG)"/>
<circle cx="248.9" cy="520.5" r="3.45" fill="url(#gG)"/>
<circle cx="249.1" cy="521.7" r="3.98" fill="url(#gG)"/>
<circle cx="251.1" cy="522.4" r="3.73" fill="url(#gG)"/>
<circle cx="252.6" cy="523.5" r="3.40" fill="url(#gG)"/>
<circle cx="255.7" cy="523.5" r="3.99" fill="url(#gG)"/>
<circle cx="256.7" cy="521.6" r="3.50" fill="url(#gG)"/>
<circle cx="259.1" cy="521.5" r="3.27" fill="url(#gG)"/>
<circle cx="261.0" cy="520.3" r="3.36" fill="url(#gG)"/>
<circle cx="262.8" cy="519.2" r="3.69" fill="url(#gG)"/>
<circle cx="264.8" cy="517.6" r="3.36" fill="url(#gG)"/>
<circle cx="266.9" cy="517.2" r="3.49" fill="url(#gG)"/>
<circle cx="269.2" cy="517.8" r="3.29" fill="url(#gG)"/>
<circle cx="270.0" cy="518.3" r="3.58" fill="url(#gG)"/>
<circle cx="273.1" cy="518.8" r="3.25" fill="url(#gG)"/>
<circle cx="275.1" cy="519.9" r="3.82" fill="url(#gG)"/>
<circle cx="276.6" cy="521.3" r="3.35" fill="url(#gG)"/>
<circle cx="277.4" cy="523.3" r="3.83" fill="url(#gG)"/>
<circle cx="279.1" cy="525.3" r="3.87" fill="url(#gG)"/>
<circle cx="280.0" cy="526.6" r="3.96" fill="url(#gG)"/>
<circle cx="281.6" cy="529.0" r="3.17" fill="url(#gG)"/>
<circle cx="282.7" cy="529.1" r="3.48" fill="url(#gG)"/>
<circle cx="283.5" cy="527.7" r="3.73" fill="url(#gG)"/>
<circle cx="285.8" cy="525.6" r="3.58" fill="url(#gG)"/>
<circle cx="287.5" cy="524.4" r="3.62" fill="url(#gG)"/>
<circle cx="288.0" cy="522.1" r="3.72" fill="url(#gG)"/>
<circle cx="290.4" cy="520.7" r="3.44" fill="url(#gG)"/>
<circle cx="292.3" cy="519.3" r="3.69" fill="url(#gG)"/>
<circle cx="293.6" cy="518.1" r="3.47" fill="url(#gG)"/>
<circle cx="295.6" cy="517.1" r="3.13" fill="url(#gG)"/>
<circle cx="296.2" cy="516.9" r="3.19" fill="url(#gG)"/>
</g>
</svg>
</div>
</body></html>
